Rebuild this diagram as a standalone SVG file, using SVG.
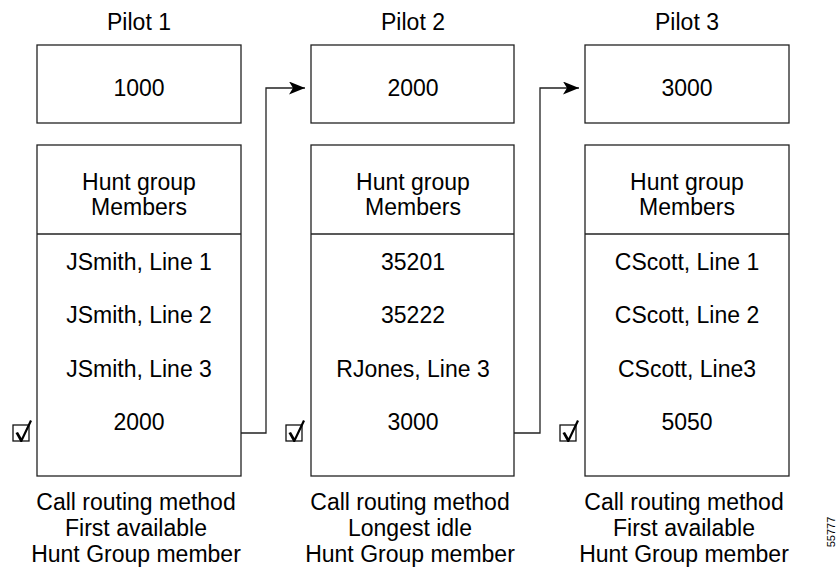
<svg xmlns="http://www.w3.org/2000/svg" width="839" height="567" viewBox="0 0 839 567">
<style>
.box{fill:#fff;stroke:#222;stroke-width:1.3}
.ln{fill:none;stroke:#222;stroke-width:1.3}
text{font-family:"Liberation Sans",Arial,sans-serif;font-size:23px;fill:#000;text-anchor:middle}
.id{font-size:11px}
.chk{fill:#fff;stroke:#111;stroke-width:1.3}
</style>
<defs>
<marker id="ah" markerWidth="16" markerHeight="13" refX="16" refY="6.5" orient="auto" markerUnits="userSpaceOnUse">
<path d="M0,0 L16,6.5 L0,13 L4,6.5 Z" fill="#000"/>
</marker>
<g id="check">
<rect class="chk" x="0" y="0" width="16" height="16"/>
<path d="M2.5,8 L5,7 L8.5,13 L17,-5 L19,-4 L9,17 L7.5,17 Z" fill="#000"/>
</g>
</defs>

<g id="connectors">
<path class="ln" d="M241,433 H266 V88 H305" marker-end="url(#ah)"/>
<path class="ln" d="M514,433 H540 V88 H579" marker-end="url(#ah)"/>
</g>

<g id="pilot1">
<text x="139" y="30">Pilot 1</text>
<rect class="box" x="37" y="45" width="204" height="78"/>
<text x="139" y="96">1000</text>
<rect class="box" x="37" y="145" width="204" height="331"/>
<line class="ln" x1="37" y1="234" x2="241" y2="234"/>
<text x="139" y="190">Hunt group</text>
<text x="139" y="215">Members</text>
<text x="139" y="270">JSmith, Line 1</text>
<text x="139" y="323">JSmith, Line 2</text>
<text x="139" y="377">JSmith, Line 3</text>
<text x="139" y="430">2000</text>
<use href="#check" x="13" y="425"/>
<text x="136" y="510">Call routing method</text>
<text x="136" y="536">First available</text>
<text x="136" y="562">Hunt Group member</text>
</g>

<g id="pilot2">
<text x="413" y="30">Pilot 2</text>
<rect class="box" x="311" y="45" width="203" height="78"/>
<text x="413" y="96">2000</text>
<rect class="box" x="311" y="145" width="203" height="331"/>
<line class="ln" x1="311" y1="234" x2="514" y2="234"/>
<text x="413" y="190">Hunt group</text>
<text x="413" y="215">Members</text>
<text x="413" y="270">35201</text>
<text x="413" y="323">35222</text>
<text x="413" y="377">RJones, Line 3</text>
<text x="413" y="430">3000</text>
<use href="#check" x="286" y="425"/>
<text x="410" y="510">Call routing method</text>
<text x="410" y="536">Longest idle</text>
<text x="410" y="562">Hunt Group member</text>
</g>

<g id="pilot3">
<text x="687" y="30">Pilot 3</text>
<rect class="box" x="585" y="45" width="204" height="78"/>
<text x="687" y="96">3000</text>
<rect class="box" x="585" y="145" width="204" height="331"/>
<line class="ln" x1="585" y1="234" x2="789" y2="234"/>
<text x="687" y="190">Hunt group</text>
<text x="687" y="215">Members</text>
<text x="687" y="270">CScott, Line 1</text>
<text x="687" y="323">CScott, Line 2</text>
<text x="687" y="377">CScott, Line3</text>
<text x="687" y="430">5050</text>
<use href="#check" x="560" y="425"/>
<text x="684" y="510">Call routing method</text>
<text x="684" y="536">First available</text>
<text x="684" y="562">Hunt Group member</text>
</g>

<text class="id" transform="translate(835,532) rotate(-90)">55777</text>
</svg>
